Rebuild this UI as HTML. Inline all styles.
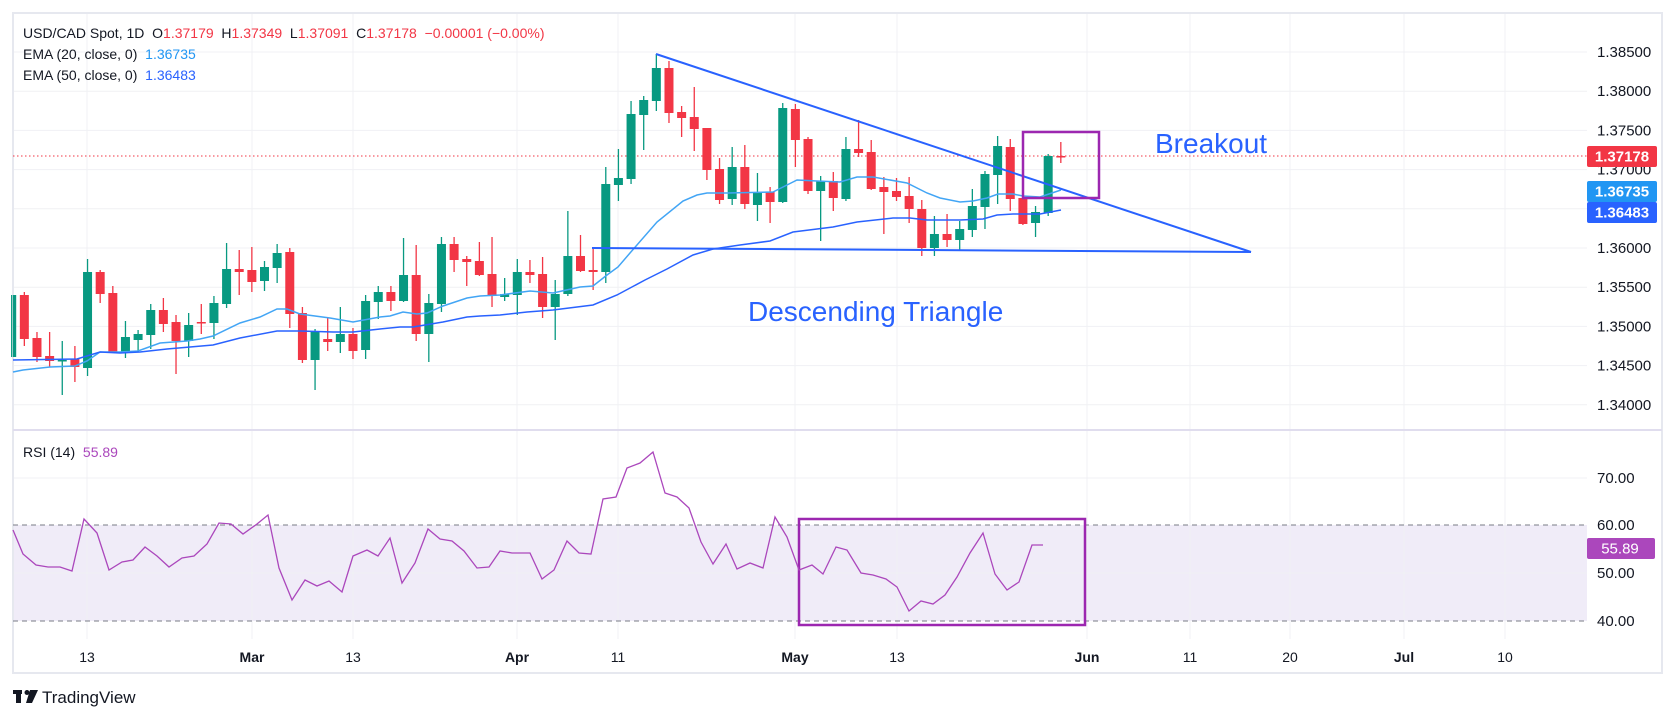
<!DOCTYPE html>
<html><head><meta charset="utf-8">
<style>
html,body{margin:0;padding:0;background:#fff;}
body{width:1675px;height:718px;overflow:hidden;font-family:"Liberation Sans",sans-serif;}
svg text{font-family:"Liberation Sans",sans-serif;white-space:pre;}
</style></head>
<body>
<svg id="c" width="1675" height="718" viewBox="0 0 1675 718" xmlns="http://www.w3.org/2000/svg" xml:space="preserve">
<rect x="0" y="0" width="1675" height="718" fill="#fff"/>
<rect x="13" y="525" width="1574" height="96" fill="#f0ecf8"/>
<g id="grid" stroke="#f0f1f4" stroke-width="1"></g>
<rect x="13" y="13" width="1649" height="660" fill="none" stroke="#e6e8ef" stroke-width="2"/>
<line x1="13" y1="430" x2="1662" y2="430" stroke="#e0ddee" stroke-width="2"/>
<line x1="13" y1="525" x2="1587" y2="525" stroke="#787b86" stroke-width="1" stroke-dasharray="5,4"/>
<line x1="13" y1="621" x2="1587" y2="621" stroke="#787b86" stroke-width="1" stroke-dasharray="5,4"/>
<line x1="13" y1="156" x2="1587" y2="156" stroke="#f23645" stroke-width="1" stroke-dasharray="1.5,2.5"/>
<g id="candles"></g>
<polyline fill="none" stroke="#42a5f5" stroke-width="1.5" points="13,372 23,370 50,367 75,366 87,361 100,352 120,352 138,351 160,343 187,341 200,339 213,336 240,323 260,317 277,309 287,309 300,314 330,318 353,322 380,317 390,316 403,312 417,314 427,313 443,306 467,298 480,296 500,295 530,291 553,293 580,287 593,286 607,275 618,267 630,253 657,222 683,201 697,195 707,193 727,193 773,192 787,185 797,180 817,181 840,182 857,177 873,177 907,183 927,193 940,198 960,202 973,201 987,198 998,194 1013,194 1023,196 1040,197 1061,190"/>
<polyline fill="none" stroke="#2962ff" stroke-width="1.5" points="13,360 77,359 100,352 120,353 140,352 167,349 213,345 240,338 277,331 300,331 333,332 353,332 380,329 400,327 413,327 443,322 467,317 480,316 500,315 527,312 553,310 593,305 617,295 645,280 667,269 693,255 713,249 740,245 770,241 793,232 833,227 857,222 893,218 910,218 927,220 960,220 983,219 997,215 1013,214 1040,214 1061,210"/>
<line x1="656" y1="54" x2="1251" y2="252" stroke="#2962ff" stroke-width="2"/>
<line x1="592" y1="248" x2="1251" y2="252" stroke="#2962ff" stroke-width="2"/>
<rect x="1023" y="132" width="76" height="66" fill="none" stroke="#9c27b0" stroke-width="2.5"/>
<rect x="799" y="519" width="286" height="106" fill="none" stroke="#9c27b0" stroke-width="2.5"/>
<text x="1155" y="153" font-size="28" fill="#2962ff">Breakout</text>
<text x="748" y="321" font-size="28" fill="#2962ff">Descending Triangle</text>
<polyline fill="none" stroke="#ab47bc" stroke-width="1.3" points="13,530 23,554 36,565 48,567 60,567 72,571 84,519 97,533 109,570 122,562 133,560 145,547 157,556 169,567 182,558 194,556 207,544 219,523 231,524 243,534 257,524 268,515 279,568 292,600 305,580 317,586 329,581 342,592 353,556 367,550 378,556 390,538 402,583 415,563 428,529 440,539 452,541 464,551 477,568 489,567 500,551 512,553 530,553 542,579 554,570 567,541 579,553 591,554 603,499 616,497 627,468 640,463 653,452 665,493 677,497 689,508 701,542 713,564 726,544 737,569 750,563 763,568 775,517 787,537 799,570 812,565 823,574 836,547 847,550 861,573 873,575 886,579 897,587 909,611 921,601 933,604 945,595 957,577 970,553 983,533 995,574 1007,590 1019,582 1032,545 1043,545"/>
<g id="labels" font-size="15" fill="#131722"></g>
<rect x="1587" y="146" width="70" height="21" rx="2" fill="#f23645"/>
<text x="1622" y="161.5" font-size="15" fill="#fff" text-anchor="middle" font-weight="bold">1.37178</text>
<rect x="1587" y="181" width="70" height="21" rx="2" fill="#2196f3"/>
<text x="1622" y="196.5" font-size="15" fill="#fff" text-anchor="middle" font-weight="bold">1.36735</text>
<rect x="1587" y="202" width="70" height="21" rx="2" fill="#2962ff"/>
<text x="1622" y="217.5" font-size="15" fill="#fff" text-anchor="middle" font-weight="bold">1.36483</text>
<rect x="1587" y="538" width="68" height="21" rx="2" fill="#ab47bc"/>
<text x="1620" y="553.5" font-size="15" fill="#fff" text-anchor="middle">55.89</text>
<text x="23" y="38" font-size="14" fill="#131722">USD/CAD Spot, 1D  O<tspan fill="#f23645">1.37179</tspan>  H<tspan fill="#f23645">1.37349</tspan>  L<tspan fill="#f23645">1.37091</tspan>  C<tspan fill="#f23645">1.37178</tspan>  <tspan fill="#f23645">−0.00001 (−0.00%)</tspan></text>
<text x="23" y="59" font-size="14" fill="#131722">EMA (20, close, 0)  <tspan fill="#2196f3">1.36735</tspan></text>
<text x="23" y="80" font-size="14" fill="#131722">EMA (50, close, 0)  <tspan fill="#2962ff">1.36483</tspan></text>
<text x="23" y="457" font-size="14" fill="#131722">RSI (14)  <tspan fill="#ab47bc">55.89</tspan></text>
<rect x="13" y="690" width="9" height="4" fill="#131722"/>
<rect x="16" y="690" width="5" height="13" fill="#131722"/>
<circle cx="27" cy="692.5" r="2.5" fill="#131722"/>
<polygon points="30,690 38,690 32,703 26,703" fill="#131722"/>
<text x="42" y="703" font-size="17" fill="#131722">TradingView</text>
</svg>
<script>
(function(){
var NS="http://www.w3.org/2000/svg";
function el(p,t,a){var e=document.createElementNS(NS,t);for(var k in a)e.setAttribute(k,a[k]);p.appendChild(e);return e;}
var grid=document.getElementById('grid');
var vx=[87,252,353,517,618,795,897,1087,1190,1290,1404,1505];
vx.forEach(function(x){el(grid,'line',{x1:x,y1:14,x2:x,y2:639});});
var pl=["1.38500","1.38000","1.37500","1.37000","1.36500","1.36000","1.35500","1.35000","1.34500","1.34000"];
var lab=document.getElementById('labels');
pl.forEach(function(t,k){var y=52+39.2*k;el(grid,'line',{x1:13,y1:y,x2:1587,y2:y});
 var tx=el(lab,'text',{x:1597,y:y+5});tx.textContent=t;});
[["70.00",478],["60.00",525],["50.00",573],["40.00",621]].forEach(function(a){
 if(a[0]=="70.00"||a[0]=="50.00")el(grid,'line',{x1:13,y1:a[1],x2:1587,y2:a[1]});
 var tx=el(lab,'text',{x:1597,y:a[1]+5});tx.textContent=a[0];});
var tl=[["13",87,0],["Mar",252,1],["13",353,0],["Apr",517,1],["11",618,0],["May",795,1],["13",897,0],["Jun",1087,1],["11",1190,0],["20",1290,0],["Jul",1404,1],["10",1505,0]];
tl.forEach(function(a){var tx=el(lab,'text',{x:a[1],y:662,'text-anchor':'middle','font-size':14,'font-weight':a[2]?'bold':'normal'});tx.textContent=a[0];});
var d=[[295,357,295,357,1],[295,339,292,346,0],[338,357,332,362,0],[356,361,332,367,0],[360,361,341,395,1],[359,367,346,382,0],[272,368,259,376,1],[272,294,270,303,0],[293,353,286,353,0],[337,353,321,358,1],[334,340,330,352,1],[310,335,304,349,1],[310,324,298,332,0],[322,341,315,374,0],[325,341,313,357,1],[322,323,304,334,0],[303,323,296,339,1],[269,304,243,308,1],[269,272,250,295,0],[270,282,247,292,0],[267,281,261,291,1],[253,268,244,283,1],[252,314,248,328,0],[313,360,307,363,0],[331,360,329,390,1],[339,342,318,351,0],[334,342,307,353,1],[334,351,328,359,0],[301,350,295,359,1],[292,302,286,319,1],[292,301,286,311,0],[275,301,238,302,1],[275,334,245,341,0],[303,334,294,362,1],[244,304,237,312,1],[244,260,237,272,0],[259,262,256,286,0],[261,275,242,276,0],[274,296,237,307,0],[294,297,278,301,1],[272,295,259,315,1],[272,275,260,283,0],[274,307,257,318,0],[294,307,280,340,1],[256,294,211,296,1],[256,271,235,272,0],[270,272,247,290,0],[184,272,167,283,1],[178,185,149,201,1],[114,179,101,184,1],[100,115,96,150,1],[68,101,54,111,1],[68,113,61,123,0],[112,118,106,137,0],[117,129,87,151,0],[128,170,128,180,0],[169,200,158,204,0],[167,199,147,205,1],[167,204,145,209,0],[192,205,173,221,1],[192,202,187,223,0],[108,202,103,203,1],[109,140,104,167,0],[139,191,137,194,0],[181,191,176,241,1],[181,198,172,211,0],[149,199,137,201,1],[149,153,120,157,0],[152,189,140,190,0],[187,192,177,234,0],[191,197,178,201,0],[196,209,177,223,0],[209,248,200,256,0],[234,248,216,256,1],[234,240,214,247,0],[229,240,221,251,1],[206,230,189,237,1],[174,207,171,229,1],[146,175,136,204,1],[147,199,139,211,0],[198,224,198,225,0],[212,223,206,237,1],[156,213,154,216,1],[156,157,142,163,0]];
var g=document.getElementById('candles');
d.forEach(function(c,i){var x=11.7+12.64*i;var col=c[4]?'#089981':'#f23645';
 el(g,'line',{x1:x,y1:c[2],x2:x,y2:c[3],stroke:col,'stroke-width':1.3});
 var x0=Math.max(13,x-4.5),w=(x+4.5)-x0;
 el(g,'rect',{x:x0,y:c[0],width:w,height:Math.max(1.5,c[1]-c[0]),fill:col});});
})();
</script>
</body></html>
